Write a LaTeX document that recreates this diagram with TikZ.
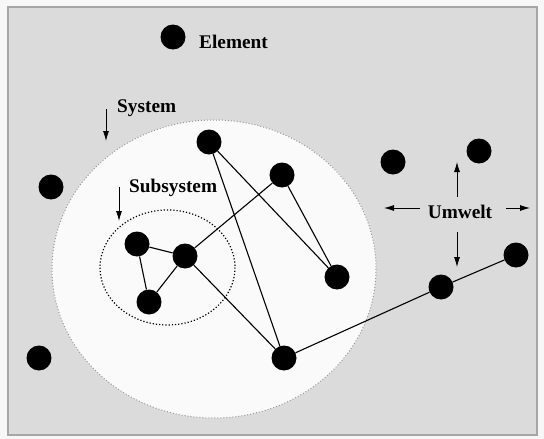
\documentclass[tikz,border=0pt]{standalone}
\usepackage{fontspec}
\setmainfont{Liberation Serif}
\usetikzlibrary{arrows.meta}
\definecolor{umweltgrau}{gray}{0.86}
\definecolor{randgrau}{gray}{0.65}
\begin{document}
\begin{tikzpicture}[x=1pt,y=-1pt,
    elem/.style={circle,fill=black,inner sep=0pt,minimum size=25pt},
    lbl/.style={font=\fontsize{19.3}{22}\selectfont\bfseries,inner sep=0pt},
    pfeil/.style={-{Latex[length=10pt,width=6pt]},line width=0.8pt},
    kante/.style={line width=1.1pt}]
  \useasboundingbox (0,0) rectangle (544,439);
  % Background and frame
  \fill[gray!6] (0,0) rectangle (544,439);
  \filldraw[fill=umweltgrau,draw=randgrau,line width=2.2pt] (8,7) rectangle (537,435);
  % System and subsystem
  \filldraw[fill=gray!4,draw=gray!80,dotted,line width=1pt] (214,269) ellipse (162 and 149);
  \draw[dotted,line width=1.2pt] (167.5,267.5) ellipse (67.5 and 57.5);
  % Elements
  \foreach \n/\x/\y in {el/173/37, a/209/142, b/282/175, c/337/277,
                        d/185/256, e/137/244, f/149/302, g/284/358,
                        h/51/187, i/39/358, j/393/162, k/479/151,
                        l/441/287, m/516/255}
    \node[elem] (\n) at (\x,\y) {};
  % Connections
  \draw[kante] (e) -- (d) -- (f) -- (e);
  \draw[kante] (d) -- (b) -- (c) -- (a) -- (g) -- (d);
  \draw[kante] (g) -- (l) -- (m);
  % Labels
  \node[lbl,anchor=west] (elLbl) at (199,42) {Element};
  \node[lbl,anchor=west] (sysLbl) at (117,108) {System};
  \node[lbl,anchor=west] (subLbl) at (129,188) {Subsystem};
  \node[lbl] (umw) at (460,212) {Umwelt};
  % Arrows
  \coordinate (sysA) at (106,109);  \coordinate (sysB) at (106,141);
  \coordinate (subA) at (119,187);  \coordinate (subB) at (119,221);
  \coordinate (umN) at (457,197);   \coordinate (umNe) at (457,162);
  \coordinate (umS) at (457,232);   \coordinate (umSe) at (457,267);
  \coordinate (umW) at (420,208);   \coordinate (umWe) at (384,208);
  \coordinate (umO) at (506,208);   \coordinate (umOe) at (530,208);
  \draw[pfeil] (sysA) -- (sysB);
  \draw[pfeil] (subA) -- (subB);
  \foreach \s in {N,S,W,O}
    \draw[pfeil] (um\s) -- (um\s e);
\end{tikzpicture}
\end{document}
